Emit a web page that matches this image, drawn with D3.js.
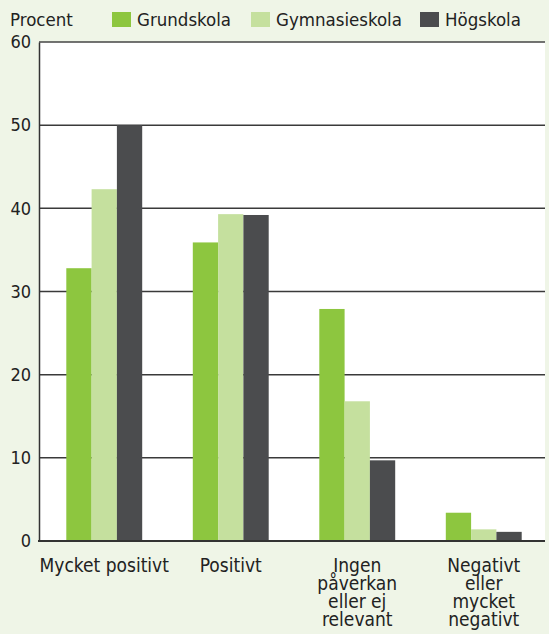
<!DOCTYPE html>
<html><head><meta charset="utf-8">
<script src="https://cdn.jsdelivr.net/npm/d3@7"></script>
<style>
body{margin:0;background:#eff5e7;}
text{font-family:"DejaVu Sans Condensed","DejaVu Sans",sans-serif;fill:#222;}
</style></head>
<body>
<svg id="c" width="549" height="634"></svg>
<script>
const categories = [["Mycket positivt"],["Positivt"],["Ingen","påverkan","eller ej","relevant"],["Negativt","eller","mycket","negativt"]];
const seriesNames = ["Grundskola","Gymnasieskola","Högskola"];
const grundskola = [32.8, 35.9, 27.9, 3.4];
const gymnasieskola = [42.3, 39.3, 16.8, 1.4];
const hogskola = [50.0, 39.2, 9.7, 1.1];
const yTicks = [0,10,20,30,40,50,60];
const colors = ["#8dc63f","#c5e09e","#4b4c4e"];

const series = [grundskola, gymnasieskola, hogskola];
const svg = d3.select("#c");
const L = 39, R = 545, T = 42, B = 541;
const y = d3.scaleLinear().domain([0,60]).range([B,T]);
const x0 = d3.scaleBand().domain(d3.range(categories.length)).range([L+2,R+2]).paddingInner(0.4).paddingOuter(0.2);
const x1 = d3.scaleBand().domain(d3.range(series.length)).range([0,x0.bandwidth()]);

svg.append("rect").attr("x",L).attr("y",T).attr("width",R-L).attr("height",B-T).attr("fill","#fff");

// gridlines
svg.append("g").selectAll("line").data(yTicks.filter(d=>d>0&&d<60)).join("line")
  .attr("x1",L).attr("x2",R).attr("y1",d=>y(d)).attr("y2",d=>y(d))
  .attr("stroke","#3a3a3a").attr("stroke-width",1.5);
svg.append("line").attr("x1",L).attr("x2",R).attr("y1",y(60)).attr("y2",y(60))
  .attr("stroke","#444").attr("stroke-width",1.5);

// bars
const g = svg.append("g");
categories.forEach((c,i)=>{
  series.forEach((s,j)=>{
    g.append("rect").attr("x",x0(i)+x1(j)).attr("width",x1.bandwidth())
     .attr("y",y(s[i])).attr("height",B-y(s[i])).attr("fill",colors[j]);
  });
});

// axes
const ya = d3.axisLeft(y).tickValues(yTicks).tickSize(0).tickPadding(8);
const yg = svg.append("g").attr("transform",`translate(${L},0)`).call(ya);
yg.select(".domain").attr("stroke","#333").attr("stroke-width",1.5);
yg.selectAll("text").style("font-size","18px").attr("fill","#222").attr("font-family",null);
svg.append("line").attr("x1",L-1).attr("x2",R).attr("y1",B).attr("y2",B).attr("stroke","#333").attr("stroke-width",2);

// category labels
categories.forEach((c,i)=>{
  const cx = x0(i)+x0.bandwidth()/2;
  const t = svg.append("text").attr("text-anchor","middle").attr("x",cx).attr("y",572).style("font-size","19px");
  c.forEach((line,k)=>t.append("tspan").attr("x",cx).attr("dy",k===0?0:18).text(line));
});

// legend
svg.append("text").attr("x",10).attr("y",26).style("font-size","18.5px").text("Procent");
const legX = [112, 251, 420];
seriesNames.forEach((n,j)=>{
  svg.append("rect").attr("x",legX[j]).attr("y",12).attr("width",19).attr("height",15).attr("fill",colors[j]);
  svg.append("text").attr("x",legX[j]+25).attr("y",26).style("font-size","18.5px").text(n);
});
</script>
</body></html>
